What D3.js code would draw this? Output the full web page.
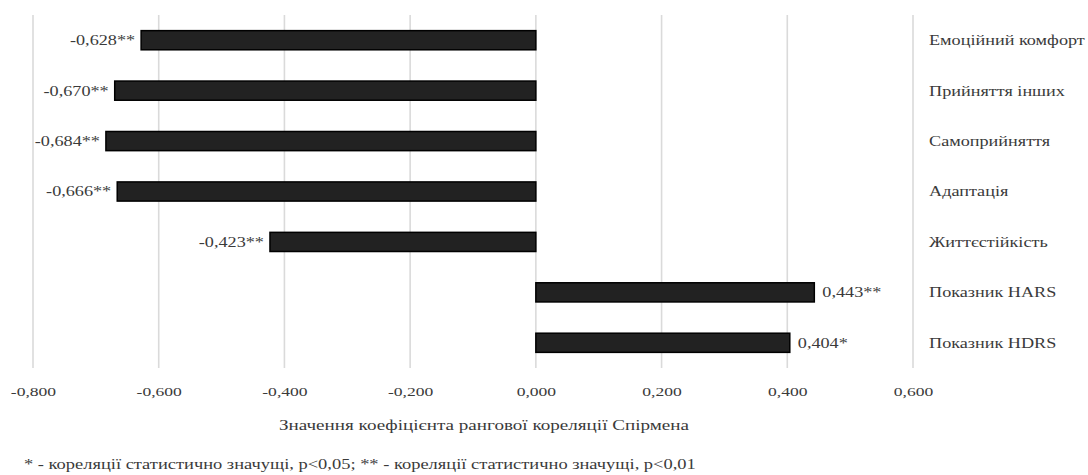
<!DOCTYPE html>
<html>
<head>
<meta charset="utf-8">
<script src="https://cdn.jsdelivr.net/npm/d3@7"></script>
</head>
<body style="margin:0">
<svg id="chart" width="1088" height="475"></svg>
<script>
// Spearman rank correlation coefficients per indicator
const categories = [
  "Емоційний комфорт",
  "Прийняття інших",
  "Самоприйняття",
  "Адаптація",
  "Життєстійкість",
  "Показник HARS",
  "Показник HDRS"
];
const values = [-0.628, -0.670, -0.684, -0.666, -0.423, 0.443, 0.404];
const significance = ["**", "**", "**", "**", "**", "**", "*"];
const xTicks = [-0.8, -0.6, -0.4, -0.2, 0, 0.2, 0.4, 0.6];
const axisTitle = "Значення коефіцієнта рангової кореляції Спірмена";
const footnote = "* - кореляції статистично значущі, p<0,05; ** - кореляції статистично значущі, p<0,01";

const FONT = "'Liberation Serif'";
const INK = "#3a3a3a";
const SX = 1.3; // glyphs are drawn horizontally widened

const svg = d3.select("#chart");
const plot = { left: 33, right: 913, top: 15, bottom: 368 };

const x = d3.scaleLinear().domain([-0.8, 0.6]).range([plot.left, plot.right]);
const y = d3.scaleBand().domain(categories).range([plot.top, plot.bottom]).paddingInner(0.62).paddingOuter(0.31);

const fmt = v => d3.format(".3f")(v).replace(".", ",").replace("−", "-");

// places a text whose glyphs are widened by SX, anchored at (px, py)
function label(g, px, py, str, size, anchor) {
  return g.append("text")
    .attr("transform", `translate(${px},${py}) scale(${SX},1)`)
    .attr("dy", "0.35em")
    .attr("text-anchor", anchor || "start")
    .attr("font-family", FONT)
    .attr("font-size", size)
    .attr("fill", INK)
    .text(str);
}

// vertical gridlines
svg.append("g")
  .selectAll("line")
  .data(xTicks)
  .join("line")
  .attr("x1", d => x(d)).attr("x2", d => x(d))
  .attr("y1", plot.top).attr("y2", plot.bottom)
  .attr("stroke", "#dadada")
  .attr("stroke-width", 1.6);

// x tick labels, positioned by the axis generator
const xAxis = d3.axisBottom(x).tickValues(xTicks).tickFormat(fmt).tickSize(0).tickPadding(0);
const gx = svg.append("g").attr("transform", `translate(0,${plot.bottom + 23})`).call(xAxis);
gx.select(".domain").remove();
gx.attr("font-family", null).attr("font-size", null);
gx.selectAll("text")
  .attr("y", 0)
  .attr("dy", "0.35em")
  .attr("font-family", FONT)
  .attr("font-size", 13.5)
  .attr("fill", INK)
  .attr("transform", `scale(${SX},1)`);

// bars
svg.append("g")
  .selectAll("rect")
  .data(values)
  .join("rect")
  .attr("x", d => x(Math.min(0, d)))
  .attr("width", d => Math.abs(x(d) - x(0)))
  .attr("y", (d, i) => y(categories[i]))
  .attr("height", y.bandwidth())
  .attr("fill", "#222222")
  .attr("stroke", "#000")
  .attr("stroke-width", 1.5);

// value labels
const gv = svg.append("g");
values.forEach((d, i) => {
  const cy = y(categories[i]) + y.bandwidth() / 2;
  if (d < 0) label(gv, x(d) - 6, cy, fmt(d) + significance[i], 14, "end");
  else label(gv, x(d) + 8, cy, fmt(d) + significance[i], 14, "start");
});

// category labels on the right
const gc = svg.append("g");
categories.forEach(c => label(gc, 929, y(c) + y.bandwidth() / 2, c, 14, "start"));

// axis title
label(svg, 484, 425, axisTitle, 14.7, "middle");

// footnote
label(svg, 24, 464, footnote, 14.2, "start");
</script>
</body>
</html>
